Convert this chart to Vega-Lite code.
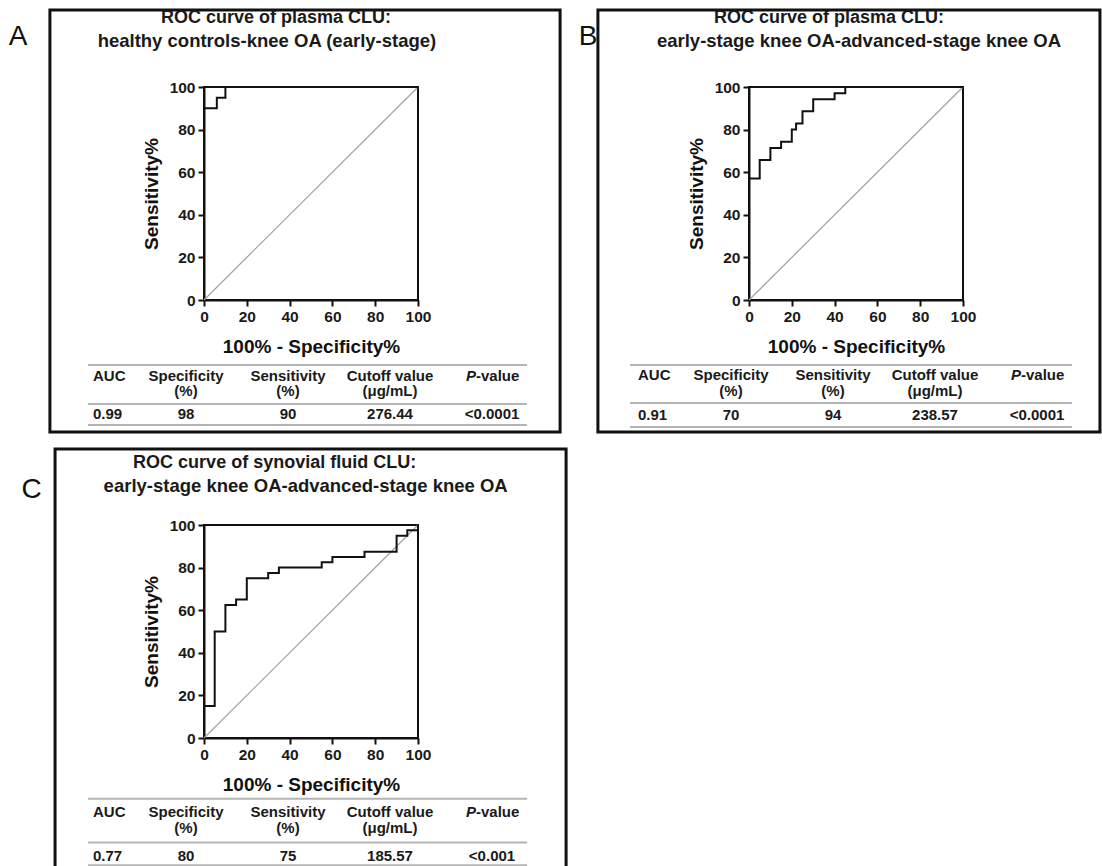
{
  "$schema": "https://vega.github.io/schema/vega-lite/v6.json",
  "background": "white",
  "padding": {"left": 7, "top": 7, "right": 0, "bottom": 0},
  "spacing": 11,
  "datasets": {
    "panels": [
      {"panel": "A", "letter": "A", "title1": "ROC curve of plasma CLU:", "title2": "healthy controls-knee OA (early-stage)"},
      {"panel": "B", "letter": "B", "title1": "ROC curve of plasma CLU:", "title2": "early-stage knee OA-advanced-stage knee OA"},
      {"panel": "C", "letter": "C", "title1": "ROC curve of synovial fluid CLU:", "title2": "early-stage knee OA-advanced-stage knee OA"}
    ],
    "roc": [
      {"panel": "A", "fpr": 0, "sens": 90},
      {"panel": "A", "fpr": 6, "sens": 95},
      {"panel": "A", "fpr": 10, "sens": 100},
      {"panel": "A", "fpr": 100, "sens": 100},
      {"panel": "B", "fpr": 0, "sens": 57.1},
      {"panel": "B", "fpr": 5, "sens": 65.7},
      {"panel": "B", "fpr": 10, "sens": 71.4},
      {"panel": "B", "fpr": 15, "sens": 74.3},
      {"panel": "B", "fpr": 20, "sens": 80},
      {"panel": "B", "fpr": 22, "sens": 82.9},
      {"panel": "B", "fpr": 25, "sens": 88.6},
      {"panel": "B", "fpr": 30, "sens": 94.3},
      {"panel": "B", "fpr": 40, "sens": 97.1},
      {"panel": "B", "fpr": 45, "sens": 100},
      {"panel": "B", "fpr": 100, "sens": 100},
      {"panel": "C", "fpr": 0, "sens": 15},
      {"panel": "C", "fpr": 5, "sens": 50},
      {"panel": "C", "fpr": 10, "sens": 62.5},
      {"panel": "C", "fpr": 15, "sens": 65},
      {"panel": "C", "fpr": 20, "sens": 75},
      {"panel": "C", "fpr": 30, "sens": 77.5},
      {"panel": "C", "fpr": 35, "sens": 80},
      {"panel": "C", "fpr": 55, "sens": 82.5},
      {"panel": "C", "fpr": 60, "sens": 85},
      {"panel": "C", "fpr": 75, "sens": 87.5},
      {"panel": "C", "fpr": 90, "sens": 95},
      {"panel": "C", "fpr": 95, "sens": 97.5},
      {"panel": "C", "fpr": 100, "sens": 100}
    ],
    "table": [
      {"panel": "A", "col": "AUC", "head": "AUC", "unit": "", "value": "0.99"},
      {"panel": "A", "col": "Specificity", "head": "Specificity", "unit": "(%)", "value": "98"},
      {"panel": "A", "col": "Sensitivity", "head": "Sensitivity", "unit": "(%)", "value": "90"},
      {"panel": "A", "col": "Cutoff", "head": "Cutoff value", "unit": "(μg/mL)", "value": "276.44"},
      {"panel": "A", "col": "P", "head": "P-value", "unit": "", "value": "<0.0001"},
      {"panel": "B", "col": "AUC", "head": "AUC", "unit": "", "value": "0.91"},
      {"panel": "B", "col": "Specificity", "head": "Specificity", "unit": "(%)", "value": "70"},
      {"panel": "B", "col": "Sensitivity", "head": "Sensitivity", "unit": "(%)", "value": "94"},
      {"panel": "B", "col": "Cutoff", "head": "Cutoff value", "unit": "(μg/mL)", "value": "238.57"},
      {"panel": "B", "col": "P", "head": "P-value", "unit": "", "value": "<0.0001"},
      {"panel": "C", "col": "AUC", "head": "AUC", "unit": "", "value": "0.77"},
      {"panel": "C", "col": "Specificity", "head": "Specificity", "unit": "(%)", "value": "80"},
      {"panel": "C", "col": "Sensitivity", "head": "Sensitivity", "unit": "(%)", "value": "75"},
      {"panel": "C", "col": "Cutoff", "head": "Cutoff value", "unit": "(μg/mL)", "value": "185.57"},
      {"panel": "C", "col": "P", "head": "P-value", "unit": "", "value": "<0.001"}
    ]
  },
  "vconcat": [
    {
      "hconcat": [
        {
          "width": 214, "height": 213,
          "layer": [
            {
              "layer": [
                {
                  "data": {"name": "panels"},
                  "transform": [{"filter": "datum.panel === 'A'"}],
                  "mark": {"type": "rect", "fill": null, "stroke": "#111", "strokeWidth": 3},
                  "encoding": {
                    "x": {"datum": -72, "type": "quantitative", "scale": {"domain": [0, 100]}},
                    "x2": {"datum": 166.4},
                    "y": {"datum": 136.2, "type": "quantitative", "scale": {"domain": [0, 100]}},
                    "y2": {"datum": -62}
                  }
                },
                {
                  "data": {"name": "panels"},
                  "transform": [{"filter": "datum.panel === 'A'"}],
                  "mark": {"type": "rule", "stroke": "#b4b4b4", "strokeWidth": 2},
                  "encoding": {
                    "x": {"datum": -54.2, "type": "quantitative"},
                    "x2": {"datum": 150.9},
                    "y": {"datum": -30.5, "type": "quantitative"}
                  }
                },
                {
                  "data": {"name": "panels"},
                  "transform": [{"filter": "datum.panel === 'A'"}],
                  "mark": {"type": "rule", "stroke": "#b4b4b4", "strokeWidth": 2},
                  "encoding": {
                    "x": {"datum": -54.2, "type": "quantitative"},
                    "x2": {"datum": 150.9},
                    "y": {"datum": -48.8, "type": "quantitative"}
                  }
                },
                {
                  "data": {"name": "panels"},
                  "transform": [{"filter": "datum.panel === 'A'"}],
                  "mark": {"type": "rule", "stroke": "#b4b4b4", "strokeWidth": 2},
                  "encoding": {
                    "x": {"datum": -54.2, "type": "quantitative"},
                    "x2": {"datum": 150.9},
                    "y": {"datum": -58.7, "type": "quantitative"}
                  }
                },
                {
                  "data": {"name": "panels"},
                  "transform": [{"filter": "datum.panel === 'A'"}],
                  "mark": {"type": "text", "fontSize": 28, "fontWeight": "normal", "color": "#111", "baseline": "middle", "align": "center"},
                  "encoding": {
                    "x": {"datum": -86.9, "type": "quantitative"},
                    "y": {"datum": 123.5, "type": "quantitative"},
                    "text": {"field": "letter"}
                  }
                },
                {
                  "data": {"name": "panels"},
                  "transform": [{"filter": "datum.panel === 'A'"}],
                  "mark": {"type": "text", "fontSize": 18, "fontWeight": "bold", "color": "#1a1a1a", "baseline": "middle", "align": "center"},
                  "encoding": {
                    "x": {"datum": 33.6, "type": "quantitative"},
                    "y": {"datum": 132.2, "type": "quantitative"},
                    "text": {"field": "title1"}
                  }
                },
                {
                  "data": {"name": "panels"},
                  "transform": [{"filter": "datum.panel === 'A'"}],
                  "mark": {"type": "text", "fontSize": 18.5, "fontWeight": "bold", "color": "#1a1a1a", "baseline": "middle", "align": "center"},
                  "encoding": {
                    "x": {"datum": 29.4, "type": "quantitative"},
                    "y": {"datum": 121.6, "type": "quantitative"},
                    "text": {"field": "title2"}
                  }
                },
                {
                  "data": {"name": "panels"},
                  "transform": [{"filter": "datum.panel === 'A'"}],
                  "mark": {"type": "rule", "stroke": "#a0a0a0", "strokeWidth": 1.2},
                  "encoding": {
                    "x": {"datum": 0, "type": "quantitative"},
                    "x2": {"datum": 100},
                    "y": {"datum": 0, "type": "quantitative"},
                    "y2": {"datum": 100}
                  }
                },
                {
                  "data": {"name": "roc"},
                  "transform": [{"filter": "datum.panel === 'A'"}],
                  "mark": {"type": "line", "interpolate": "step-after", "stroke": "#111", "strokeWidth": 2},
                  "encoding": {
                    "x": {"field": "fpr", "type": "quantitative", "scale": {"domain": [0, 100]}, "axis": {"title": "100% - Specificity%", "values": [0, 20, 40, 60, 80, 100]}},
                    "y": {"field": "sens", "type": "quantitative", "scale": {"domain": [0, 100]}, "axis": {"title": "Sensitivity%", "values": [0, 20, 40, 60, 80, 100]}}
                  }
                }
              ]
            },
            {
              "data": {"name": "table"},
              "transform": [{"filter": "datum.panel === 'A'"}],
              "layer": [
                {
                  "transform": [{"filter": "datum.col !== 'AUC' && datum.col !== 'P'"}],
                  "mark": {"type": "text", "fontSize": 15, "fontWeight": "bold", "color": "#1a1a1a", "baseline": "middle", "align": "center"},
                  "encoding": {
                    "x": {"field": "col", "type": "ordinal", "scale": {"type": "point", "domain": ["AUC", "Specificity", "Sensitivity", "Cutoff", "P"], "range": [-120, 288], "padding": 0}, "axis": null},
                    "y": {"datum": -35.5, "type": "quantitative"},
                    "text": {"field": "head"}
                  }
                },
                {
                  "transform": [{"filter": "datum.col === 'P'"}],
                  "mark": {"type": "text", "fontSize": 15, "fontWeight": "bold", "fontStyle": "italic", "color": "#1a1a1a", "baseline": "middle", "align": "right", "dx": -16, "text": "P"},
                  "encoding": {
                    "x": {"field": "col", "type": "ordinal", "axis": null},
                    "y": {"datum": -35.5, "type": "quantitative"}
                  }
                },
                {
                  "transform": [{"filter": "datum.col === 'P'"}],
                  "mark": {"type": "text", "fontSize": 15, "fontWeight": "bold", "color": "#1a1a1a", "baseline": "middle", "align": "left", "dx": -16, "text": "-value"},
                  "encoding": {
                    "x": {"field": "col", "type": "ordinal", "axis": null},
                    "y": {"datum": -35.5, "type": "quantitative"}
                  }
                },
                {
                  "transform": [{"filter": "datum.col === 'AUC'"}],
                  "mark": {"type": "text", "fontSize": 15, "fontWeight": "bold", "color": "#1a1a1a", "baseline": "middle", "align": "left", "dx": 9},
                  "encoding": {
                    "x": {"field": "col", "type": "ordinal", "axis": null},
                    "y": {"datum": -35.5, "type": "quantitative"},
                    "text": {"field": "head"}
                  }
                },
                {
                  "transform": [{"filter": "datum.unit !== ''"}],
                  "mark": {"type": "text", "fontSize": 15, "fontWeight": "bold", "color": "#1a1a1a", "baseline": "middle", "align": "center"},
                  "encoding": {
                    "x": {"field": "col", "type": "ordinal", "axis": null},
                    "y": {"datum": -42.8, "type": "quantitative"},
                    "text": {"field": "unit"}
                  }
                },
                {
                  "transform": [{"filter": "datum.col !== 'AUC'"}],
                  "mark": {"type": "text", "fontSize": 15, "fontWeight": "bold", "color": "#1a1a1a", "baseline": "middle", "align": "center"},
                  "encoding": {
                    "x": {"field": "col", "type": "ordinal", "axis": null},
                    "y": {"datum": -53.5, "type": "quantitative"},
                    "text": {"field": "value"}
                  }
                },
                {
                  "transform": [{"filter": "datum.col === 'AUC'"}],
                  "mark": {"type": "text", "fontSize": 15, "fontWeight": "bold", "color": "#1a1a1a", "baseline": "middle", "align": "left", "dx": 9},
                  "encoding": {
                    "x": {"field": "col", "type": "ordinal", "axis": null},
                    "y": {"datum": -53.5, "type": "quantitative"},
                    "text": {"field": "value"}
                  }
                }
              ]
            }
          ],
          "resolve": {"scale": {"x": "independent"}, "axis": {"x": "independent"}}
        },
        {
          "width": 214, "height": 213,
          "layer": [
            {
              "layer": [
                {
                  "data": {"name": "panels"},
                  "transform": [{"filter": "datum.panel === 'B'"}],
                  "mark": {"type": "rect", "fill": null, "stroke": "#111", "strokeWidth": 3},
                  "encoding": {
                    "x": {"datum": -70.6, "type": "quantitative", "scale": {"domain": [0, 100]}},
                    "x2": {"datum": 164},
                    "y": {"datum": 136.2, "type": "quantitative", "scale": {"domain": [0, 100]}},
                    "y2": {"datum": -62}
                  }
                },
                {
                  "data": {"name": "panels"},
                  "transform": [{"filter": "datum.panel === 'B'"}],
                  "mark": {"type": "rule", "stroke": "#b4b4b4", "strokeWidth": 2},
                  "encoding": {
                    "x": {"datum": -55.6, "type": "quantitative"},
                    "x2": {"datum": 150.9},
                    "y": {"datum": -30.5, "type": "quantitative"}
                  }
                },
                {
                  "data": {"name": "panels"},
                  "transform": [{"filter": "datum.panel === 'B'"}],
                  "mark": {"type": "rule", "stroke": "#b4b4b4", "strokeWidth": 2},
                  "encoding": {
                    "x": {"datum": -55.6, "type": "quantitative"},
                    "x2": {"datum": 150.9},
                    "y": {"datum": -48.4, "type": "quantitative"}
                  }
                },
                {
                  "data": {"name": "panels"},
                  "transform": [{"filter": "datum.panel === 'B'"}],
                  "mark": {"type": "rule", "stroke": "#b4b4b4", "strokeWidth": 2},
                  "encoding": {
                    "x": {"datum": -55.6, "type": "quantitative"},
                    "x2": {"datum": 150.9},
                    "y": {"datum": -59.6, "type": "quantitative"}
                  }
                },
                {
                  "data": {"name": "panels"},
                  "transform": [{"filter": "datum.panel === 'B'"}],
                  "mark": {"type": "text", "fontSize": 28, "fontWeight": "normal", "color": "#111", "baseline": "middle", "align": "center"},
                  "encoding": {
                    "x": {"datum": -75.2, "type": "quantitative"},
                    "y": {"datum": 123.5, "type": "quantitative"},
                    "text": {"field": "letter"}
                  }
                },
                {
                  "data": {"name": "panels"},
                  "transform": [{"filter": "datum.panel === 'B'"}],
                  "mark": {"type": "text", "fontSize": 18, "fontWeight": "bold", "color": "#1a1a1a", "baseline": "middle", "align": "center"},
                  "encoding": {
                    "x": {"datum": 37.4, "type": "quantitative"},
                    "y": {"datum": 132.2, "type": "quantitative"},
                    "text": {"field": "title1"}
                  }
                },
                {
                  "data": {"name": "panels"},
                  "transform": [{"filter": "datum.panel === 'B'"}],
                  "mark": {"type": "text", "fontSize": 18.5, "fontWeight": "bold", "color": "#1a1a1a", "baseline": "middle", "align": "center"},
                  "encoding": {
                    "x": {"datum": 51.4, "type": "quantitative"},
                    "y": {"datum": 121.6, "type": "quantitative"},
                    "text": {"field": "title2"}
                  }
                },
                {
                  "data": {"name": "panels"},
                  "transform": [{"filter": "datum.panel === 'B'"}],
                  "mark": {"type": "rule", "stroke": "#a0a0a0", "strokeWidth": 1.2},
                  "encoding": {
                    "x": {"datum": 0, "type": "quantitative"},
                    "x2": {"datum": 100},
                    "y": {"datum": 0, "type": "quantitative"},
                    "y2": {"datum": 100}
                  }
                },
                {
                  "data": {"name": "roc"},
                  "transform": [{"filter": "datum.panel === 'B'"}],
                  "mark": {"type": "line", "interpolate": "step-after", "stroke": "#111", "strokeWidth": 2},
                  "encoding": {
                    "x": {"field": "fpr", "type": "quantitative", "scale": {"domain": [0, 100]}, "axis": {"title": "100% - Specificity%", "values": [0, 20, 40, 60, 80, 100]}},
                    "y": {"field": "sens", "type": "quantitative", "scale": {"domain": [0, 100]}, "axis": {"title": "Sensitivity%", "values": [0, 20, 40, 60, 80, 100]}}
                  }
                }
              ]
            },
            {
              "data": {"name": "table"},
              "transform": [{"filter": "datum.panel === 'B'"}],
              "layer": [
                {
                  "transform": [{"filter": "datum.col !== 'AUC' && datum.col !== 'P'"}],
                  "mark": {"type": "text", "fontSize": 15, "fontWeight": "bold", "color": "#1a1a1a", "baseline": "middle", "align": "center"},
                  "encoding": {
                    "x": {"field": "col", "type": "ordinal", "scale": {"type": "point", "domain": ["AUC", "Specificity", "Sensitivity", "Cutoff", "P"], "range": [-120, 288], "padding": 0}, "axis": null},
                    "y": {"datum": -35.2, "type": "quantitative"},
                    "text": {"field": "head"}
                  }
                },
                {
                  "transform": [{"filter": "datum.col === 'P'"}],
                  "mark": {"type": "text", "fontSize": 15, "fontWeight": "bold", "fontStyle": "italic", "color": "#1a1a1a", "baseline": "middle", "align": "right", "dx": -16, "text": "P"},
                  "encoding": {
                    "x": {"field": "col", "type": "ordinal", "axis": null},
                    "y": {"datum": -35.2, "type": "quantitative"}
                  }
                },
                {
                  "transform": [{"filter": "datum.col === 'P'"}],
                  "mark": {"type": "text", "fontSize": 15, "fontWeight": "bold", "color": "#1a1a1a", "baseline": "middle", "align": "left", "dx": -16, "text": "-value"},
                  "encoding": {
                    "x": {"field": "col", "type": "ordinal", "axis": null},
                    "y": {"datum": -35.2, "type": "quantitative"}
                  }
                },
                {
                  "transform": [{"filter": "datum.col === 'AUC'"}],
                  "mark": {"type": "text", "fontSize": 15, "fontWeight": "bold", "color": "#1a1a1a", "baseline": "middle", "align": "left", "dx": 9},
                  "encoding": {
                    "x": {"field": "col", "type": "ordinal", "axis": null},
                    "y": {"datum": -35.2, "type": "quantitative"},
                    "text": {"field": "head"}
                  }
                },
                {
                  "transform": [{"filter": "datum.unit !== ''"}],
                  "mark": {"type": "text", "fontSize": 15, "fontWeight": "bold", "color": "#1a1a1a", "baseline": "middle", "align": "center"},
                  "encoding": {
                    "x": {"field": "col", "type": "ordinal", "axis": null},
                    "y": {"datum": -42.5, "type": "quantitative"},
                    "text": {"field": "unit"}
                  }
                },
                {
                  "transform": [{"filter": "datum.col !== 'AUC'"}],
                  "mark": {"type": "text", "fontSize": 15, "fontWeight": "bold", "color": "#1a1a1a", "baseline": "middle", "align": "center"},
                  "encoding": {
                    "x": {"field": "col", "type": "ordinal", "axis": null},
                    "y": {"datum": -54, "type": "quantitative"},
                    "text": {"field": "value"}
                  }
                },
                {
                  "transform": [{"filter": "datum.col === 'AUC'"}],
                  "mark": {"type": "text", "fontSize": 15, "fontWeight": "bold", "color": "#1a1a1a", "baseline": "middle", "align": "left", "dx": 9},
                  "encoding": {
                    "x": {"field": "col", "type": "ordinal", "axis": null},
                    "y": {"datum": -54, "type": "quantitative"},
                    "text": {"field": "value"}
                  }
                }
              ]
            }
          ],
          "resolve": {"scale": {"x": "independent"}, "axis": {"x": "independent"}}
        }
      ],
      "spacing": 331,
      "bounds": "flush"
    },
    {
      "width": 214, "height": 213,
      "layer": [
        {
          "layer": [
            {
              "data": {"name": "panels"},
              "transform": [{"filter": "datum.panel === 'C'"}],
              "mark": {"type": "rect", "fill": null, "stroke": "#111", "strokeWidth": 3},
              "encoding": {
                "x": {"datum": -69.6, "type": "quantitative", "scale": {"domain": [0, 100]}},
                "x2": {"datum": 169.2},
                "y": {"datum": 135.7, "type": "quantitative", "scale": {"domain": [0, 100]}},
                "y2": {"datum": -62}
              }
            },
            {
              "data": {"name": "panels"},
              "transform": [{"filter": "datum.panel === 'C'"}],
              "mark": {"type": "rule", "stroke": "#b4b4b4", "strokeWidth": 2},
              "encoding": {
                "x": {"datum": -54.2, "type": "quantitative"},
                "x2": {"datum": 151},
                "y": {"datum": -28.5, "type": "quantitative"}
              }
            },
            {
              "data": {"name": "panels"},
              "transform": [{"filter": "datum.panel === 'C'"}],
              "mark": {"type": "rule", "stroke": "#b4b4b4", "strokeWidth": 2},
              "encoding": {
                "x": {"datum": -54.2, "type": "quantitative"},
                "x2": {"datum": 151},
                "y": {"datum": -49.1, "type": "quantitative"}
              }
            },
            {
              "data": {"name": "panels"},
              "transform": [{"filter": "datum.panel === 'C'"}],
              "mark": {"type": "rule", "stroke": "#b4b4b4", "strokeWidth": 2},
              "encoding": {
                "x": {"datum": -54.2, "type": "quantitative"},
                "x2": {"datum": 151},
                "y": {"datum": -59.8, "type": "quantitative"}
              }
            },
            {
              "data": {"name": "panels"},
              "transform": [{"filter": "datum.panel === 'C'"}],
              "mark": {"type": "text", "fontSize": 28, "fontWeight": "normal", "color": "#111", "baseline": "middle", "align": "center"},
              "encoding": {
                "x": {"datum": -80.5, "type": "quantitative"},
                "y": {"datum": 116.4, "type": "quantitative"},
                "text": {"field": "letter"}
              }
            },
            {
              "data": {"name": "panels"},
              "transform": [{"filter": "datum.panel === 'C'"}],
              "mark": {"type": "text", "fontSize": 18, "fontWeight": "bold", "color": "#1a1a1a", "baseline": "middle", "align": "center"},
              "encoding": {
                "x": {"datum": 33, "type": "quantitative"},
                "y": {"datum": 129.1, "type": "quantitative"},
                "text": {"field": "title1"}
              }
            },
            {
              "data": {"name": "panels"},
              "transform": [{"filter": "datum.panel === 'C'"}],
              "mark": {"type": "text", "fontSize": 18.5, "fontWeight": "bold", "color": "#1a1a1a", "baseline": "middle", "align": "center"},
              "encoding": {
                "x": {"datum": 47.5, "type": "quantitative"},
                "y": {"datum": 118.3, "type": "quantitative"},
                "text": {"field": "title2"}
              }
            },
            {
              "data": {"name": "panels"},
              "transform": [{"filter": "datum.panel === 'C'"}],
              "mark": {"type": "rule", "stroke": "#a0a0a0", "strokeWidth": 1.2},
              "encoding": {
                "x": {"datum": 0, "type": "quantitative"},
                "x2": {"datum": 100},
                "y": {"datum": 0, "type": "quantitative"},
                "y2": {"datum": 100}
              }
            },
            {
              "data": {"name": "roc"},
              "transform": [{"filter": "datum.panel === 'C'"}],
              "mark": {"type": "line", "interpolate": "step-after", "stroke": "#111", "strokeWidth": 2},
              "encoding": {
                "x": {"field": "fpr", "type": "quantitative", "scale": {"domain": [0, 100]}, "axis": {"title": "100% - Specificity%", "values": [0, 20, 40, 60, 80, 100]}},
                "y": {"field": "sens", "type": "quantitative", "scale": {"domain": [0, 100]}, "axis": {"title": "Sensitivity%", "values": [0, 20, 40, 60, 80, 100]}}
              }
            }
          ]
        },
        {
          "data": {"name": "table"},
          "transform": [{"filter": "datum.panel === 'C'"}],
          "layer": [
            {
              "transform": [{"filter": "datum.col !== 'AUC' && datum.col !== 'P'"}],
              "mark": {"type": "text", "fontSize": 15, "fontWeight": "bold", "color": "#1a1a1a", "baseline": "middle", "align": "center"},
              "encoding": {
                "x": {"field": "col", "type": "ordinal", "scale": {"type": "point", "domain": ["AUC", "Specificity", "Sensitivity", "Cutoff", "P"], "range": [-120, 288], "padding": 0}, "axis": null},
                "y": {"datum": -34.6, "type": "quantitative"},
                "text": {"field": "head"}
              }
            },
            {
              "transform": [{"filter": "datum.col === 'P'"}],
              "mark": {"type": "text", "fontSize": 15, "fontWeight": "bold", "fontStyle": "italic", "color": "#1a1a1a", "baseline": "middle", "align": "right", "dx": -16, "text": "P"},
              "encoding": {
                "x": {"field": "col", "type": "ordinal", "axis": null},
                "y": {"datum": -34.6, "type": "quantitative"}
              }
            },
            {
              "transform": [{"filter": "datum.col === 'P'"}],
              "mark": {"type": "text", "fontSize": 15, "fontWeight": "bold", "color": "#1a1a1a", "baseline": "middle", "align": "left", "dx": -16, "text": "-value"},
              "encoding": {
                "x": {"field": "col", "type": "ordinal", "axis": null},
                "y": {"datum": -34.6, "type": "quantitative"}
              }
            },
            {
              "transform": [{"filter": "datum.col === 'AUC'"}],
              "mark": {"type": "text", "fontSize": 15, "fontWeight": "bold", "color": "#1a1a1a", "baseline": "middle", "align": "left", "dx": 9},
              "encoding": {
                "x": {"field": "col", "type": "ordinal", "axis": null},
                "y": {"datum": -34.6, "type": "quantitative"},
                "text": {"field": "head"}
              }
            },
            {
              "transform": [{"filter": "datum.unit !== ''"}],
              "mark": {"type": "text", "fontSize": 15, "fontWeight": "bold", "color": "#1a1a1a", "baseline": "middle", "align": "center"},
              "encoding": {
                "x": {"field": "col", "type": "ordinal", "axis": null},
                "y": {"datum": -42.1, "type": "quantitative"},
                "text": {"field": "unit"}
              }
            },
            {
              "transform": [{"filter": "datum.col !== 'AUC'"}],
              "mark": {"type": "text", "fontSize": 15, "fontWeight": "bold", "color": "#1a1a1a", "baseline": "middle", "align": "center"},
              "encoding": {
                "x": {"field": "col", "type": "ordinal", "axis": null},
                "y": {"datum": -55.2, "type": "quantitative"},
                "text": {"field": "value"}
              }
            },
            {
              "transform": [{"filter": "datum.col === 'AUC'"}],
              "mark": {"type": "text", "fontSize": 15, "fontWeight": "bold", "color": "#1a1a1a", "baseline": "middle", "align": "left", "dx": 9},
              "encoding": {
                "x": {"field": "col", "type": "ordinal", "axis": null},
                "y": {"datum": -55.2, "type": "quantitative"},
                "text": {"field": "value"}
              }
            }
          ]
        }
      ],
      "resolve": {"scale": {"x": "independent"}, "axis": {"x": "independent"}}
    }
  ],
  "config": {
    "font": "Liberation Sans",
    "view": {"stroke": "#111", "strokeWidth": 2},
    "axis": {
      "grid": false,
      "domainColor": "#111",
      "domainWidth": 2,
      "tickColor": "#111",
      "tickWidth": 2,
      "tickSize": 6,
      "labelFont": "Liberation Sans",
      "labelFontSize": 15.5,
      "labelFontWeight": "bold",
      "labelColor": "#1a1a1a",
      "labelPadding": 3,
      "labelFlush": false,
      "labelOverlap": false,
      "titleFont": "Liberation Sans",
      "titleFontSize": 19,
      "titleFontWeight": "bold",
      "titleColor": "#111"
    },
    "axisX": {"titlePadding": 13},
    "axisY": {"titlePadding": 8}
  }
}
